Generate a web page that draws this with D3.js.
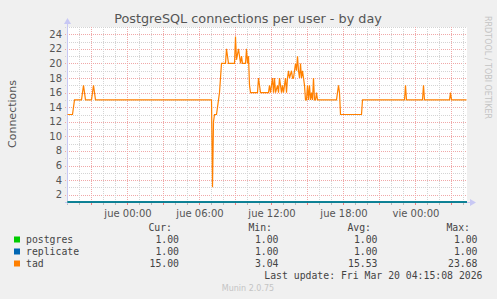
<!DOCTYPE html>
<html>

<head>
    <meta charset="utf-8">
    <style type="text/css">
        body {
            margin: 0;
            background: #f0f0f0;
        }

        svg text {
            font-family: "DejaVu Sans", sans-serif;
        }

        .legend text {
            font-family: "DejaVu Sans Mono", monospace;
        }
    </style>
    <title>PostgreSQL connections per user - by day</title>
</head>

<body>
    <script src="https://cdn.jsdelivr.net/npm/d3@7"></script>
    <script>
        // minutes relative to jue 00:00 and the "tad" connection count read at each point
        var tadMinutes = [-300, -275, -265, -230, -220, -210, -180, -170, -160, 420, 425, 430, 435, 445, 450, 455, 460, 465, 470,
            490, 495, 505, 535, 540, 545, 555, 565, 570, 575, 590, 595, 600, 605, 610, 615, 650, 655, 665, 705,
            710, 715, 725, 730, 735, 740, 750, 755, 760, 770, 775, 780, 790, 795, 800, 805, 810, 820, 825, 830,
            835, 840, 845, 850, 855, 860, 865, 870, 875, 880, 885, 890, 895, 900, 905, 910, 915, 920, 925, 930,
            935, 940, 945, 950, 1045, 1050, 1055, 1060, 1065, 1170, 1175, 1385, 1390, 1395, 1475, 1480, 1485,
            1610, 1615, 1620, 1695]
        var tadValues = [13, 13, 15, 15, 17, 15, 15, 17, 15, 15, 3.04, 12, 13, 13, 14, 15, 16, 18, 20,
            20, 22, 20, 20, 23.68, 20.5, 22, 20, 21, 20, 20, 22, 20, 21, 17, 16, 16, 18, 16, 16,
            17, 16, 18, 16, 18, 16, 17, 16, 18, 16, 17, 16, 18, 16, 18, 19, 18, 19, 18, 18,
            19, 20, 19, 21, 19, 18, 20, 18, 19, 18, 17, 15, 15, 17, 15, 17, 15, 16, 15, 18,
            15, 15, 16, 15, 15, 16, 17, 16, 13, 13, 15, 15, 17, 15, 15, 17, 15,
            15, 16, 15, 15]
        var constMinutes = [-300, 1700]
        var postgresValues = [1, 1]
        var replicateValues = [1, 1]

        var seriesNames = ["postgres", "replicate", "tad"]
        var seriesColors = ["#00cc00", "#0066b3", "#ff8000"]
        var curValues = ["1.00", "1.00", "15.00"]
        var minValues = ["1.00", "1.00", "3.04"]
        var avgValues = ["1.00", "1.00", "15.53"]
        var maxValues = ["1.00", "1.00", "23.68"]
        var yTicks = [2, 4, 6, 8, 10, 12, 14, 16, 18, 20, 22, 24]
        var dayNames = ["dom", "lun", "mar", "mié", "jue", "vie", "sáb"]

        var width = 497,
            height = 299,
            plot = {left: 67, right: 467, top: 27, bottom: 202}

        var base = new Date(2026, 2, 19, 0, 0)
        var toDate = m => new Date(base.getTime() + m * 60000)

        var svg = d3.select("body").append("svg")
            .attr("width", width)
            .attr("height", height)

        var xScale = d3.scaleTime()
            .domain([toDate(-300), toDate(1700)])
            .range([plot.left, plot.right])

        var yScale = d3.scaleLinear()
            .domain([1, 25])
            .range([plot.bottom, plot.top])

        // white canvas
        svg.append("rect")
            .attr("x", plot.left)
            .attr("y", plot.top)
            .attr("width", plot.right - plot.left)
            .attr("height", plot.bottom - plot.top)
            .attr("fill", "white")

        var gridColor = "#d4d4d4",
            majorColor = "#f0a8a8"

        // horizontal grid: every unit, red on labelled values
        var yAll = d3.range(2, 26)
        svg.selectAll(".hgrid")
            .data(yAll)
            .enter().append("line")
            .attr("class", "hgrid")
            .attr("x1", plot.left - 2)
            .attr("x2", plot.right)
            .attr("y1", d => Math.round(yScale(d)) + 0.5)
            .attr("y2", d => Math.round(yScale(d)) + 0.5)
            .attr("stroke", d => d % 2 === 0 ? majorColor : gridColor)
            .attr("stroke-dasharray", "1,1")

        // vertical grid: every hour, red every 3 hours
        var hours = xScale.ticks(d3.timeHour.every(1))
        svg.selectAll(".vgrid")
            .data(hours)
            .enter().append("line")
            .attr("class", "vgrid")
            .attr("x1", d => Math.round(xScale(d)) + 0.5)
            .attr("x2", d => Math.round(xScale(d)) + 0.5)
            .attr("y1", plot.top)
            .attr("y2", plot.bottom + 3)
            .attr("stroke", d => d.getHours() % 3 === 0 ? majorColor : gridColor)
            .attr("stroke-dasharray", "1,1")

        // tick marks below axis
        svg.selectAll(".xtick")
            .data(hours)
            .enter().append("line")
            .attr("x1", d => Math.round(xScale(d)) + 0.5)
            .attr("x2", d => Math.round(xScale(d)) + 0.5)
            .attr("y1", plot.bottom)
            .attr("y2", plot.bottom + 3)
            .attr("stroke", d => d.getHours() % 3 === 0 ? "#f08080" : "#bbbbbb")

        // axis lines and arrows
        var axisColor = "#c8c8f4"
        svg.append("line")
            .attr("x1", plot.left + 0.5).attr("x2", plot.left + 0.5)
            .attr("y1", plot.top - 4).attr("y2", plot.bottom + 2)
            .attr("stroke", axisColor)
        svg.append("line")
            .attr("x1", plot.left - 2).attr("x2", plot.right + 3)
            .attr("y1", plot.bottom + 0.5).attr("y2", plot.bottom + 0.5)
            .attr("stroke", axisColor)
        svg.append("path")
            .attr("d", `M${plot.left - 3},${plot.top - 3} L${plot.left + 0.5},${plot.top - 9} L${plot.left + 4},${plot.top - 3} Z`)
            .attr("fill", axisColor)
        svg.append("path")
            .attr("d", `M${plot.right + 3},${plot.bottom - 3} L${plot.right + 9},${plot.bottom + 0.5} L${plot.right + 3},${plot.bottom + 4} Z`)
            .attr("fill", axisColor)

        // y labels
        svg.selectAll(".ylabel")
            .data(yTicks)
            .enter().append("text")
            .attr("x", 62)
            .attr("y", d => yScale(d) + 3.5)
            .attr("text-anchor", "end")
            .attr("font-size", 10)
            .attr("fill", "#555")
            .text(d => d)

        // x labels every 6 hours
        var sixHours = xScale.ticks(d3.timeHour.every(6))
        var fmt = d3.timeFormat("%H:%M")
        svg.selectAll(".xlabel")
            .data(sixHours)
            .enter().append("text")
            .attr("x", d => xScale(d) + 1)
            .attr("y", 216.5)
            .attr("text-anchor", "middle")
            .attr("font-size", 10)
            .attr("fill", "#555")
            .text(d => `${dayNames[d.getDay()]} ${fmt(d)}`)

        // series lines
        var line = d3.line()
            .x(d => xScale(toDate(d[0])) + 0.5)
            .y(d => yScale(d[1]))

        var series = [
            {values: d3.zip(constMinutes, postgresValues), color: seriesColors[0]},
            {values: d3.zip(constMinutes, replicateValues), color: seriesColors[1]},
            {values: d3.zip(tadMinutes, tadValues), color: seriesColors[2]}
        ]

        svg.append("clipPath").attr("id", "clip")
            .append("rect")
            .attr("x", plot.left).attr("y", plot.top - 1)
            .attr("width", plot.right - plot.left).attr("height", plot.bottom - plot.top + 2)

        svg.append("g")
            .attr("clip-path", "url(#clip)")
            .selectAll("path")
            .data(series)
            .enter().append("path")
            .attr("d", d => line(d.values))
            .attr("fill", "none")
            .attr("stroke", d => d.color)
            .attr("stroke-width", d => d.color === seriesColors[2] ? 1.2 : 1.5)

        // title and axis title
        svg.append("text")
            .attr("x", 248)
            .attr("y", 22.5)
            .attr("text-anchor", "middle")
            .attr("font-size", 12.8)
            .attr("fill", "#555")
            .text("PostgreSQL connections per user - by day")

        svg.append("text")
            .attr("transform", "translate(15.5,114) rotate(-90)")
            .attr("text-anchor", "middle")
            .attr("font-size", 11)
            .attr("fill", "#555")
            .text("Connections")

        svg.append("text")
            .attr("transform", "translate(485,16) rotate(90)")
            .attr("font-size", 8)
            .attr("fill", "#c4c4c4")
            .text("RRDTOOL / TOBI OETIKER")

        svg.append("text")
            .attr("x", 248)
            .attr("y", 291)
            .attr("text-anchor", "middle")
            .attr("font-size", 8)
            .attr("fill", "#c4c4c4")
            .text("Munin 2.0.75")

        // legend table
        var legend = svg.append("g").attr("class", "legend")
            .attr("font-size", 9.8)
            .attr("fill", "#444")

        var headers = [["Cur:", 172], ["Min:", 272], ["Avg:", 371], ["Max:", 470]]
        headers.forEach(h => legend.append("text")
            .attr("x", h[1]).attr("y", 231).attr("text-anchor", "end").text(h[0]))

        var columns = [[curValues, 179], [minValues, 278.5], [avgValues, 377.5], [maxValues, 477.5]]
        seriesNames.forEach((name, i) => {
            var y = 243 + i * 12
            legend.append("rect")
                .attr("x", 14).attr("y", y - 6.5)
                .attr("width", 6).attr("height", 6)
                .attr("fill", seriesColors[i])
            legend.append("text").attr("x", 26).attr("y", y).text(name)
            columns.forEach(c => legend.append("text")
                .attr("x", c[1]).attr("y", y).attr("text-anchor", "end").text(c[0][i]))
        })

        legend.append("text")
            .attr("x", 482.5)
            .attr("y", 279)
            .attr("text-anchor", "end")
            .text("Last update: Fri Mar 20 04:15:08 2026")
    </script>
</body>

</html>
